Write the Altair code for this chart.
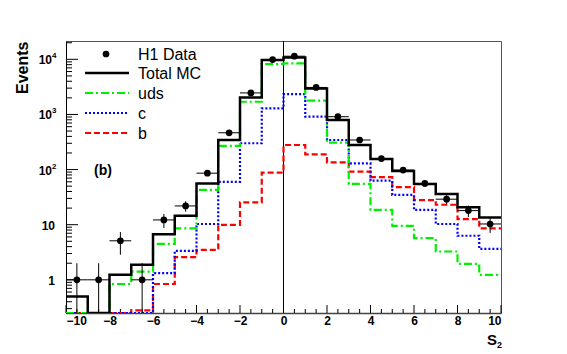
import altair as alt
import pandas as pd
import numpy as np

# ---------------- data ----------------
bin_lo = list(range(-10, 10))
bin_hi_edge = 10
total_mc = [0.5, 0, 1.23, 1.87, 6.7, 14.6, 56, 344, 2040, 9680,
            10800, 2960, 795, 280, 156, 94, 55, 36, 20.7, 13.5]
uds = [0, 0, 0.84, 1.41, 4.5, 8.6, 42.7, 270, 1700, 8200,
       8450, 1780, 307, 55, 18.5, 9.5, 5.7, 3.26, 1.95, 1.23]
charm = [0, 0, 0, 0, 1.32, 3.35, 10.3, 60, 300, 1290,
         2340, 910, 344, 130, 63, 34.7, 18.5, 10.3, 6.3, 3.65]
beauty = [0, 0, 0, 0.28, 0.84, 2.58, 3.5, 9.9, 25.5, 88,
          279, 189, 135, 92, 73, 48, 28, 23, 12.6, 8.6]
data_x = [-9.5, -8.5, -7.5, -6.5, -5.5, -4.5, -3.5, -2.5, -1.5, -0.5,
          0.5, 1.5, 2.5, 3.5, 4.5, 5.5, 6.5, 7.5, 8.5, 9.5]
data_y = [1, 1, 5.1, 1, 12.2, 21.9, 86, 465, 2460, 9900,
          11400, 3090, 910, 344, 158, 98, 56, 29, 18, 10.3]

y_plain_ticks = [1, 10]
y_plain_labels = ["1", "10"]
y_exp_ticks = [100, 1000, 10000]
y_exp_labels = ["2", "3", "4"]
y_tick_values = y_plain_ticks + y_exp_ticks
x_tick_values = [-10, -8, -6, -4, -2, 0, 2, 4, 6, 8, 10]

FLOOR = 1e-3  # empty bins are drawn on the lower edge (clamped scale)
FONT = "Liberation Sans"

W, H = 435, 272
xscale = alt.Scale(domain=[-10, 10], nice=False, zero=False)
yscale = alt.Scale(type="log", domain=[0.25, 21500], nice=False, clamp=True)


def step_df(vals):
    xs = bin_lo + [bin_hi_edge]
    ys = [max(v, FLOOR) for v in vals] + [max(vals[-1], FLOOR)]
    return pd.DataFrame({"x": xs, "y": ys})


def hist_layer(vals, color, width, dash=None):
    kw = dict(interpolate="step-after", color=color, strokeWidth=width, clip=True)
    if dash:
        kw["strokeDash"] = dash
    return alt.Chart(step_df(vals)).mark_line(**kw).encode(
        x=alt.X("x:Q", scale=xscale, axis=None),
        y=alt.Y("y:Q", scale=yscale, axis=None),
    )


pts = pd.DataFrame({"x": data_x, "y": data_y})
pts["err"] = np.sqrt(pts["y"])
pts["lo"] = (pts["y"] - pts["err"]).clip(lower=FLOOR)
pts["hi"] = pts["y"] + pts["err"]
pts["xl"] = pts["x"] - 0.5
pts["xr"] = pts["x"] + 0.5

axis_layer = alt.Chart(pts).mark_point(opacity=0).encode(
    x=alt.X("x:Q", scale=xscale,
            axis=alt.Axis(title=None, values=x_tick_values, ticks=False, grid=False,
                          labelFont=FONT, labelFontWeight="bold",
                          labelFontSize=12, labelPadding=2, labelColor="black",
                          domainColor="#444", domainWidth=1.5)),
    y=alt.Y("y:Q", scale=yscale,
            axis=alt.Axis(title="Events", values=y_tick_values, ticks=False, grid=False,
                          labels=False, domainColor="black", domainWidth=1,
                          titleFont=FONT, titleFontWeight="bold",
                          titleFontSize=16, titleAngle=270, titleAlign="right",
                          titleBaseline="alphabetic", titleX=-39, titleY=0,
                          titleColor="black")),
)

# y tick labels (with real superscript exponents)
ylab_plain = alt.Chart(pd.DataFrame({"v": y_plain_ticks, "t": y_plain_labels})).mark_text(
    font=FONT, fontWeight="bold", fontSize=12, color="black", align="right",
    baseline="middle", dy=1
).encode(y=alt.Y("v:Q", scale=yscale, axis=None), x=alt.value(-11), text="t:N")
ylab_base = alt.Chart(pd.DataFrame({"v": y_exp_ticks})).mark_text(
    font=FONT, fontWeight="bold", fontSize=12, color="black", align="right",
    baseline="middle", dy=1, text="10"
).encode(y=alt.Y("v:Q", scale=yscale, axis=None), x=alt.value(-14))
ylab_exp = alt.Chart(pd.DataFrame({"v": y_exp_ticks, "t": y_exp_labels})).mark_text(
    font=FONT, fontWeight="bold", fontSize=8, color="black", align="left",
    baseline="alphabetic", dy=-1
).encode(y=alt.Y("v:Q", scale=yscale, axis=None), x=alt.value(-14), text="t:N")

# x axis title S_2
xt_main = alt.Chart(pd.DataFrame({"t": ["S"]})).mark_text(
    font=FONT, fontWeight="bold", fontSize=15, color="black", align="right",
    baseline="alphabetic").encode(x=alt.value(W - 4), y=alt.value(H + 32), text="t:N")
xt_sub = alt.Chart(pd.DataFrame({"t": ["2"]})).mark_text(
    font=FONT, fontWeight="bold", fontSize=9, color="black", align="left",
    baseline="alphabetic").encode(x=alt.value(W - 4), y=alt.value(H + 35), text="t:N")

# inward ticks
y_major = pd.DataFrame({"v": y_tick_values})
y_minor = pd.DataFrame({"v": [k * 10.0 ** e for e in range(-1, 5) for k in range(2, 10)
                              if 0.25 <= k * 10.0 ** e <= 21500]})
x_major = pd.DataFrame({"v": x_tick_values})
x_minor = pd.DataFrame({"v": [i * 0.5 for i in range(-20, 21) if i % 4 != 0]})

ytick_major = alt.Chart(y_major).mark_rule(color="black", strokeWidth=1).encode(
    y=alt.Y("v:Q", scale=yscale, axis=None), x=alt.value(0), x2=alt.value(12))
ytick_minor = alt.Chart(y_minor).mark_rule(color="black", strokeWidth=1).encode(
    y=alt.Y("v:Q", scale=yscale, axis=None), x=alt.value(0), x2=alt.value(6))
xtick_major = alt.Chart(x_major).mark_rule(color="black", strokeWidth=1).encode(
    x=alt.X("v:Q", scale=xscale, axis=None), y=alt.value(H), y2=alt.value(H - 8))
xtick_minor = alt.Chart(x_minor).mark_rule(color="black", strokeWidth=1).encode(
    x=alt.X("v:Q", scale=xscale, axis=None), y=alt.value(H), y2=alt.value(H - 4))

zero_line = alt.Chart(pd.DataFrame({"v": [0]})).mark_rule(color="black", strokeWidth=1).encode(
    x=alt.X("v:Q", scale=xscale, axis=None), y=alt.value(0), y2=alt.value(H))

b_layer = hist_layer(beauty, "#ff0000", 2.2, [6, 3])
c_layer = hist_layer(charm, "#0000ff", 2.2, [2, 2])
uds_layer = hist_layer(uds, "#00ee00", 2.2, [8, 3, 2, 3])
mc_layer = hist_layer(total_mc, "black", 2.5)

err_v = alt.Chart(pts).mark_rule(color="black", strokeWidth=1, clip=True).encode(
    x=alt.X("x:Q", scale=xscale, axis=None),
    y=alt.Y("lo:Q", scale=yscale, axis=None), y2="hi:Q")
err_h = alt.Chart(pts).mark_rule(color="black", strokeWidth=1, clip=True).encode(
    x=alt.X("xl:Q", scale=xscale, axis=None), x2="xr:Q",
    y=alt.Y("y:Q", scale=yscale, axis=None))
dots = alt.Chart(pts).mark_point(filled=True, shape="circle", size=45, color="black",
                                 opacity=1, clip=True).encode(
    x=alt.X("x:Q", scale=xscale, axis=None),
    y=alt.Y("y:Q", scale=yscale, axis=None))

panel = alt.Chart(pd.DataFrame({"x": [-8.3], "y": [94], "t": ["(b)"]})).mark_text(
    font=FONT, fontWeight="bold", fontSize=14, color="black", baseline="middle"
).encode(x=alt.X("x:Q", scale=xscale, axis=None), y=alt.Y("y:Q", scale=yscale, axis=None),
         text="t:N")

legend_items = [
    ("H1 Data", "dot", "black", None, 13),
    ("Total MC", "line", "black", None, 32),
    ("uds", "line", "#00ee00", [8, 3, 2, 3], 52),
    ("c", "line", "#0000ff", [2, 2], 72),
    ("b", "line", "#ff0000", [6, 3], 92),
]
legend_layers = []
one = pd.DataFrame({"k": [0]})
for label, kind, color, dash, ry in legend_items:
    if kind == "dot":
        legend_layers.append(alt.Chart(one).mark_point(
            filled=True, shape="circle", size=45, color=color, opacity=1).encode(
            x=alt.value(40), y=alt.value(ry)))
    else:
        kw = dict(color=color, strokeWidth=2.5 if color == "black" else 2.2)
        if dash:
            kw["strokeDash"] = dash
        legend_layers.append(alt.Chart(one).mark_rule(**kw).encode(
            x=alt.value(19), x2=alt.value(63), y=alt.value(ry)))
    legend_layers.append(alt.Chart(pd.DataFrame({"t": [label]})).mark_text(
        font=FONT, fontSize=16, color="black", align="left", baseline="middle"
    ).encode(x=alt.value(72), y=alt.value(ry + 1), text="t:N"))

chart = alt.layer(
    axis_layer, zero_line, ytick_major, ytick_minor, xtick_major, xtick_minor,
    ylab_plain, ylab_base, ylab_exp, xt_main, xt_sub,
    b_layer, c_layer, uds_layer, mc_layer, err_v, err_h, dots, panel, *legend_layers
).resolve_axis(x="independent", y="independent").properties(
    width=W, height=H, autosize="none",
    padding={"left": 66, "top": 41, "right": 66, "bottom": 41},
    background="white",
).configure_view(stroke="#555", strokeWidth=1)

chart.save("out.html", embed_options={"renderer": "svg", "actions": False})
